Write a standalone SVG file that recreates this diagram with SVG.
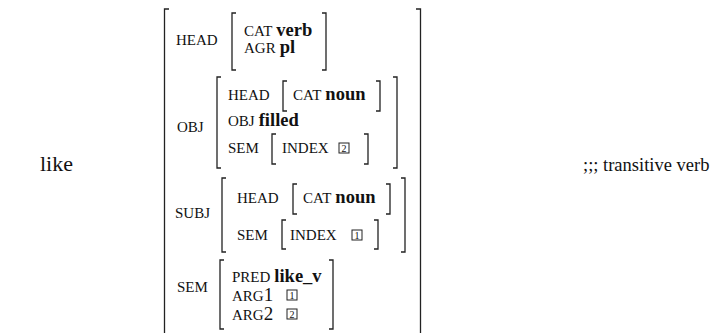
<svg xmlns="http://www.w3.org/2000/svg" width="718" height="333" viewBox="0 0 718 333" font-family="'Liberation Serif', 'Times New Roman', serif">
  <style>
    text { font-family: "Liberation Serif", "Times New Roman", serif; fill: #111; }
    .big { font-size: 22px; }
    .note { font-size: 18.5px; }
    .sc { font-size: 15px; }
    .val { font-size: 18.5px; font-weight: bold; }
    .num { font-size: 19px; }
    .tag { font-size: 10px; }
    .br { fill: none; stroke: #222; stroke-width: 1.3; }
    .box { fill: none; stroke: #222; stroke-width: 1; }
  </style>

  <rect width="718" height="333" fill="#fff"/>

  <g id="word">
    <text class="big" x="40" y="171">like</text>
  </g>
  <g id="comment">
    <text class="note" x="583" y="171">;;; transitive verb</text>
  </g>

  <!-- outer feature structure brackets (run off the bottom) -->
  <g id="outer">
    <path class="br" d="M169,9 H164.5 V340"/>
    <path class="br" d="M416,9 H420.5 V340"/>
  </g>

  <!-- HEAD -->
  <g id="head">
    <text class="sc" x="176" y="45">HEAD</text>
    <path class="br" d="M236,13 H232 V70 H236"/>
    <path class="br" d="M322,13 H326 V70 H322"/>
    <text x="244" y="36"><tspan class="sc">CAT</tspan> <tspan class="val">verb</tspan></text>
    <text x="244" y="53"><tspan class="sc">AGR</tspan> <tspan class="val">pl</tspan></text>
  </g>

  <!-- OBJ -->
  <g id="obj">
    <text class="sc" x="177" y="132">OBJ</text>
    <path class="br" d="M221,77 H217 V168 H221"/>
    <path class="br" d="M393,77 H397 V168 H393"/>
    <text class="sc" x="228" y="100">HEAD</text>
    <path class="br" d="M287,81 H283 V111 H287"/>
    <path class="br" d="M376,81 H380 V111 H376"/>
    <text x="293" y="100"><tspan class="sc">CAT</tspan> <tspan class="val">noun</tspan></text>
    <text x="228" y="126"><tspan class="sc">OBJ</tspan> <tspan class="val">filled</tspan></text>
    <text class="sc" x="228" y="153">SEM</text>
    <path class="br" d="M276,134 H272 V164 H276"/>
    <path class="br" d="M364,134 H368 V164 H364"/>
    <text class="sc" x="282" y="153">INDEX</text>
    <rect class="box" x="339" y="143" width="10" height="10"/>
    <text class="tag" x="344" y="151.5" text-anchor="middle">2</text>
  </g>

  <!-- SUBJ -->
  <g id="subj">
    <text class="sc" x="175" y="218">SUBJ</text>
    <path class="br" d="M226,178 H222 V252 H226"/>
    <path class="br" d="M401,178 H405 V252 H401"/>
    <text class="sc" x="237" y="203">HEAD</text>
    <path class="br" d="M297,184 H293 V214 H297"/>
    <path class="br" d="M386,184 H390 V214 H386"/>
    <text x="303" y="203"><tspan class="sc">CAT</tspan> <tspan class="val">noun</tspan></text>
    <text class="sc" x="237" y="240">SEM</text>
    <path class="br" d="M286,220 H282 V249 H286"/>
    <path class="br" d="M374,220 H378 V249 H374"/>
    <text class="sc" x="290" y="240">INDEX</text>
    <rect class="box" x="352" y="230" width="10" height="10"/>
    <text class="tag" x="357" y="238.5" text-anchor="middle">1</text>
  </g>

  <!-- SEM -->
  <g id="sem">
    <text class="sc" x="177" y="292">SEM</text>
    <path class="br" d="M224,260 H220 V329 H224"/>
    <path class="br" d="M329,260 H333 V329 H329"/>
    <text x="232" y="282"><tspan class="sc">PRED</tspan> <tspan class="val">like_v</tspan></text>
    <text x="232" y="301"><tspan class="sc">ARG</tspan><tspan class="num">1</tspan></text>
    <rect class="box" x="287" y="290" width="10" height="10"/>
    <text class="tag" x="292" y="298.5" text-anchor="middle">1</text>
    <text x="232" y="320"><tspan class="sc">ARG</tspan><tspan class="num">2</tspan></text>
    <rect class="box" x="287" y="309" width="10" height="10"/>
    <text class="tag" x="292" y="317.5" text-anchor="middle">2</text>
  </g>
</svg>
